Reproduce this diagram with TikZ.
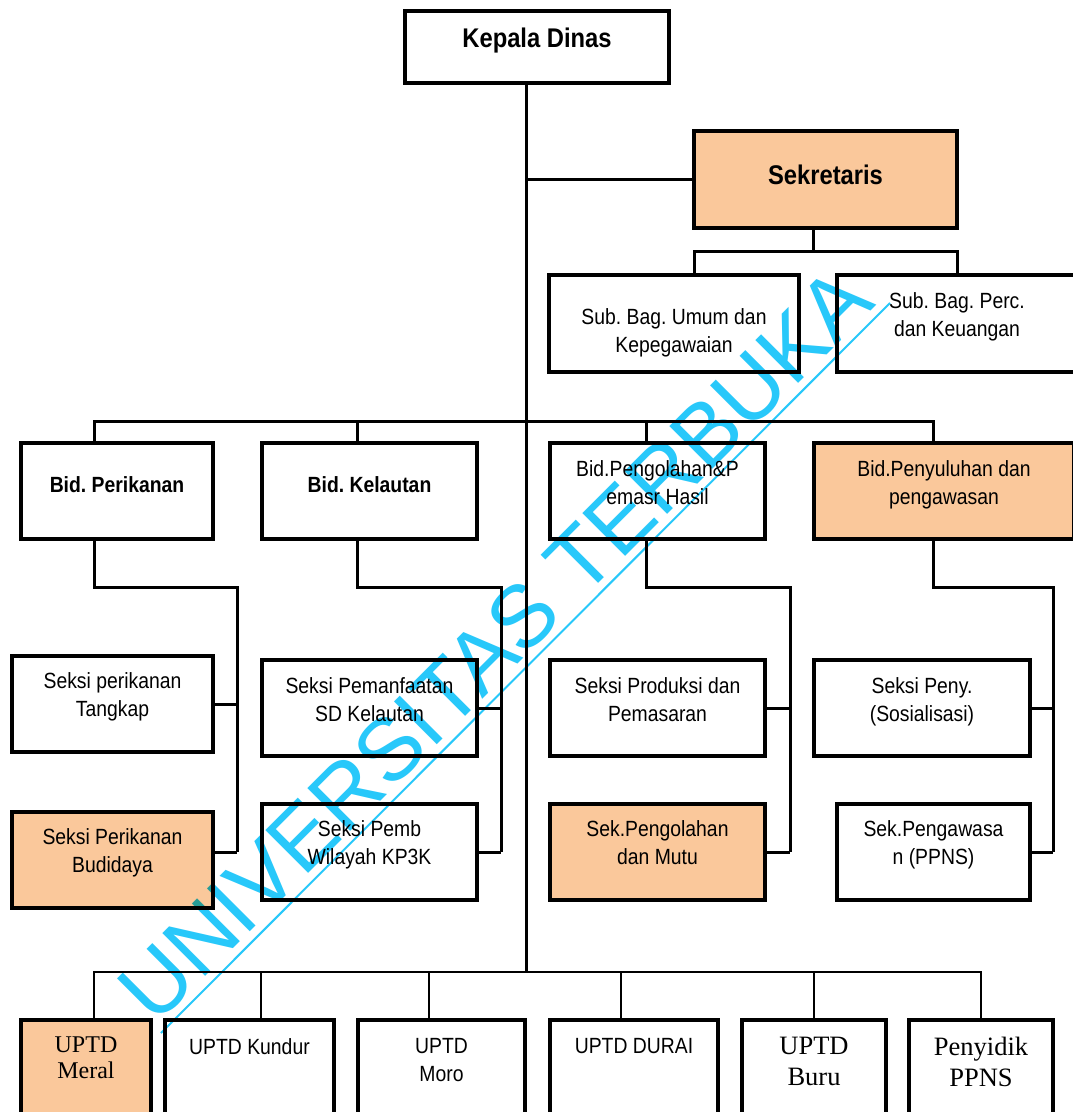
\documentclass[tikz,border=0pt]{standalone}
\usepackage{fontspec}
\setmainfont{Liberation Sans}[FakeStretch=0.88]
\newfontfamily\romanfont{Liberation Serif}
\newfontfamily\markfont{Liberation Sans}
\usetikzlibrary{positioning}
\definecolor{peach}{RGB}{250,200,155}
\definecolor{wmcyan}{RGB}{40,200,250}
\frenchspacing

\begin{document}
\begin{tikzpicture}[x=1pt, y=-1pt,
    box/.style={rectangle, draw, line width=3.2pt, inner sep=0pt, outer sep=0pt},
    pbox/.style={box, fill=peach},
    txt/.style={inner sep=0pt, align=center, font=\fontsize{22}{28}\selectfont},
    boldtxt/.style={txt, font=\fontsize{22}{28}\selectfont\bfseries},
    headtxt/.style={txt, font=\fontsize{27}{32}\selectfont\bfseries},
    romantxt/.style={txt, font=\fontsize{24}{26}\romanfont},
    bigroman/.style={txt, font=\fontsize{26.5}{31}\romanfont},
    wmtext/.style={inner sep=0pt, text=wmcyan, font=\fontsize{88}{88}\markfont},
    link/.style={line width=3pt},
    thinlink/.style={line width=2.4pt}
]
    \fill[white] (0,0) rectangle (1072,1112);
    \useasboundingbox (0,0) rectangle (1072,1112);

    \node[box, minimum width=264, minimum height=72] (kadis) at (537,47) {};
    \node[headtxt, below=17pt of kadis.north] (kadis-t) {Kepala Dinas};

    \node[pbox, minimum width=263, minimum height=97] (sekr) at (825.5,179.5) {};
    \node[headtxt, below=34pt of sekr.north] (sekr-t) {Sekretaris};

    \node[box, minimum width=250, minimum height=97] (umum) at (674,323.5) {};
    \node[txt, below=33pt of umum.north] (umum-t) {Sub. Bag. Umum dan\\Kepegawaian};
    \node[box, minimum width=240, minimum height=97] (keu) at (957,323.5) {};
    \node[txt, below=17pt of keu.north] (keu-t) {Sub. Bag. Perc.\\dan Keuangan};

    \node[box, minimum width=192, minimum height=96] (perikanan) at (117,491) {};
    \node[boldtxt, below=33pt of perikanan.north] (perikanan-t) {Bid. Perikanan};
    \node[box, minimum width=215, minimum height=96] (kelautan) at (369.5,491) {};
    \node[boldtxt, below=33pt of kelautan.north] (kelautan-t) {Bid. Kelautan};
    \node[box, minimum width=215, minimum height=96] (olah) at (657.5,491) {};
    \node[txt, below=17pt of olah.north] (olah-t) {Bid.Pengolahan\&P\\emasr Hasil};
    \node[pbox, minimum width=260, minimum height=96] (suluh) at (944,491) {};
    \node[txt, below=17pt of suluh.north] (suluh-t) {Bid.Penyuluhan dan\\pengawasan};

    \node[box, minimum width=201, minimum height=96] (tangkap) at (112.5,704) {};
    \node[txt, below=16pt of tangkap.north] (tangkap-t) {Seksi perikanan\\Tangkap};
    \node[box, minimum width=215, minimum height=96] (manfaat) at (369.5,708) {};
    \node[txt, below=17pt of manfaat.north] (manfaat-t) {Seksi Pemanfaatan\\SD Kelautan};
    \node[box, minimum width=215, minimum height=96] (produksi) at (657.5,708) {};
    \node[txt, below=17pt of produksi.north] (produksi-t) {Seksi Produksi dan\\Pemasaran};
    \node[box, minimum width=216, minimum height=96] (peny) at (922,708) {};
    \node[txt, below=17pt of peny.north] (peny-t) {Seksi Peny.\\(Sosialisasi)};

    \node[pbox, minimum width=201, minimum height=96] (budidaya) at (112.5,860) {};
    \node[txt, below=16pt of budidaya.north] (budidaya-t) {Seksi Perikanan\\Budidaya};
    \node[box, minimum width=215, minimum height=96] (kptiga) at (369.5,852) {};
    \node[txt, below=16pt of kptiga.north] (kptiga-t) {Seksi Pemb\\Wilayah KP3K};
    \node[pbox, minimum width=215, minimum height=96] (mutu) at (657.5,852) {};
    \node[txt, below=16pt of mutu.north] (mutu-t) {Sek.Pengolahan\\dan Mutu};
    \node[box, minimum width=193, minimum height=96] (awas) at (933.5,852) {};
    \node[txt, below=16pt of awas.north] (awas-t) {Sek.Pengawasa\\n (PPNS)};

    \node[pbox, minimum width=130, minimum height=110] (meral) at (86,1075) {};
    \node[romantxt, below=17pt of meral.north] (meral-t) {UPTD\\Meral};
    \node[box, minimum width=169, minimum height=110] (kundur) at (249.5,1075) {};
    \node[txt, below=18pt of kundur.north] (kundur-t) {UPTD Kundur};
    \node[box, minimum width=167, minimum height=110] (moro) at (441.5,1075) {};
    \node[txt, below=18pt of moro.north] (moro-t) {UPTD\\Moro};
    \node[box, minimum width=168, minimum height=110] (durai) at (634,1075) {};
    \node[txt, below=18pt of durai.north] (durai-t) {UPTD DURAI};
    \node[box, minimum width=144, minimum height=110] (buru) at (814,1075) {};
    \node[bigroman, below=17pt of buru.north] (buru-t) {UPTD\\Buru};
    \node[box, minimum width=144, minimum height=110] (ppns) at (981,1075) {};
    \node[bigroman, below=17pt of ppns.north] (ppns-t) {Penyidik\\PPNS};

    \coordinate (bus) at (526,972);
    \draw[link] (kadis.south -| bus) -- (bus);
    \draw[link] (sekr.west) -- (sekr.west -| bus);

    \coordinate (sek-c) at (813,251);
    \coordinate (sek-l) at (694,251);
    \coordinate (sek-r) at (957,251);
    \draw[link] (sekr.south -| sek-c) -- (sek-c);
    \draw[link] (umum.north -| sek-l) -- (sek-l) -- (sek-r) -- (keu.north -| sek-r);

    \coordinate (bid-a) at (94,421);
    \coordinate (bid-b) at (357,421);
    \coordinate (bid-c) at (646,421);
    \coordinate (bid-d) at (933,421);
    \draw[link] (perikanan.north -| bid-a) -- (bid-a) -- (bid-d) -- (suluh.north -| bid-d);
    \draw[link] (bid-b) -- (kelautan.north -| bid-b);
    \draw[link] (bid-c) -- (olah.north -| bid-c);

    \coordinate (per-e) at (237,587);
    \coordinate (per-v) at (237,852);
    \draw[link] (perikanan.south -| bid-a) |- (per-e) -- (per-v);
    \draw[link] (tangkap.east) -- (tangkap.east -| per-v);
    \draw[link] (budidaya.east |- per-v) -- (per-v);

    \coordinate (kel-e) at (501,587);
    \coordinate (kel-v) at (501,852);
    \draw[link] (kelautan.south -| bid-b) |- (kel-e) -- (kel-v);
    \draw[link] (manfaat.east) -- (manfaat.east -| kel-v);
    \draw[link] (kptiga.east |- kel-v) -- (kel-v);

    \coordinate (ol-e) at (790,587);
    \coordinate (ol-v) at (790,852);
    \draw[link] (olah.south -| bid-c) |- (ol-e) -- (ol-v);
    \draw[link] (produksi.east) -- (produksi.east -| ol-v);
    \draw[link] (mutu.east |- ol-v) -- (ol-v);

    \coordinate (sul-e) at (1053,587);
    \coordinate (sul-v) at (1053,852);
    \draw[link] (suluh.south -| bid-d) |- (sul-e) -- (sul-v);
    \draw[link] (peny.east) -- (peny.east -| sul-v);
    \draw[link] (awas.east |- sul-v) -- (sul-v);

    \coordinate (up-a) at (94,972);
    \coordinate (up-b) at (261,972);
    \coordinate (up-c) at (429,972);
    \coordinate (up-d) at (621,972);
    \coordinate (up-e) at (814,972);
    \coordinate (up-f) at (981,972);
    \draw[thinlink] (meral.north -| up-a) -- (up-a) -- (up-f) -- (ppns.north -| up-f);
    \draw[thinlink] (up-b) -- (kundur.north -| up-b);
    \draw[thinlink] (up-c) -- (moro.north -| up-c);
    \draw[thinlink] (up-d) -- (durai.north -| up-d);
    \draw[thinlink] (up-e) -- (buru.north -| up-e);

    \begin{scope}[blend mode=multiply]
        \node[wmtext, anchor=base west, rotate=45] (wm) at (155,1027) {UNIVERSITAS TERBUKA};
        \coordinate (wm-a) at (161,1033);
        \coordinate (wm-b) at (890,303);
        \draw[wmcyan, line width=2pt] (wm-a) -- (wm-b);
    \end{scope}
\end{tikzpicture}
\end{document}
